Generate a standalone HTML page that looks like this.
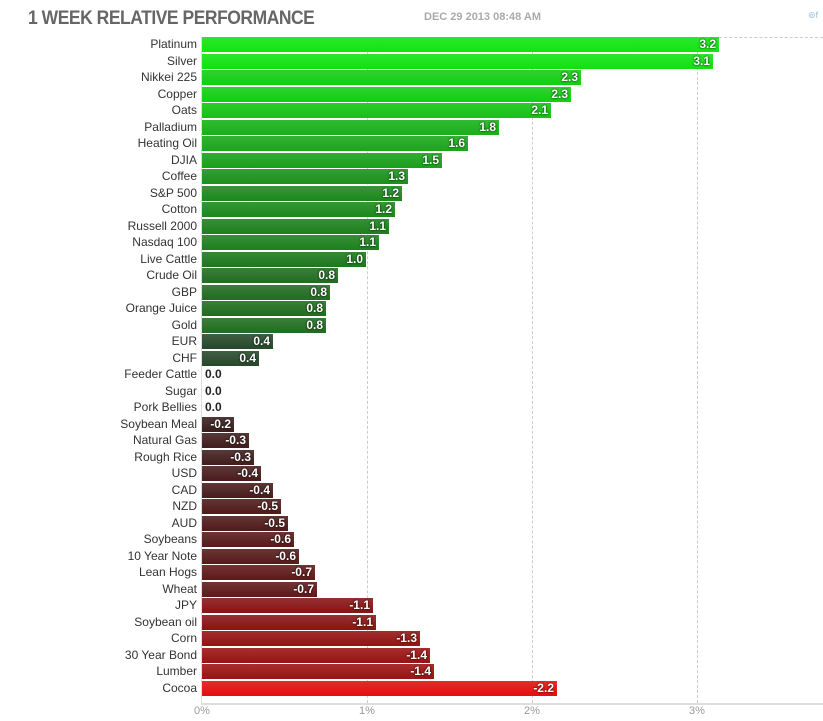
<!DOCTYPE html><html><head><style>
body{margin:0;background:#fff;width:823px;height:721px;position:relative;overflow:hidden;font-family:"Liberation Sans",sans-serif}
.t{position:absolute;left:28px;top:8px;font-size:19px;font-weight:bold;color:#666;letter-spacing:-0.5px;transform:scaleX(0.92);transform-origin:left}
.d{position:absolute;left:424px;top:11px;font-size:11px;font-weight:bold;color:#aaa}
.l{position:absolute;right:626px;font-size:12px;color:#333;height:16px;line-height:16px;white-space:nowrap}
.b{position:absolute;left:202px;height:15px}
.v{position:absolute;font-size:12px;font-weight:bold;color:#fff;line-height:15px;height:15px;text-shadow:0 0 2px #000}
.g{position:absolute;top:37px;height:666px;border-left:1px dashed #ccc}
.x{position:absolute;top:705px;font-size:11px;color:#999}
</style></head><body>
<div class="t">1 WEEK RELATIVE PERFORMANCE</div>
<div class="d">DEC 29 2013 08:48 AM</div>
<div style="position:absolute;left:808px;top:10px;font-size:9px;color:#9bd">⊚f</div>
<div class="g" style="left:367px"></div><div class="g" style="left:532px"></div><div class="g" style="left:697px"></div>
<div style="position:absolute;left:719px;top:37px;width:104px;border-top:1px dashed #ccc"></div>
<div style="position:absolute;left:201px;top:37px;height:666px;border-left:1px solid #ddd"></div>
<div style="position:absolute;left:201px;top:703px;width:622px;border-top:2px solid #ddd"></div>
<div class="x" style="left:194px">0%</div><div class="x" style="left:359px">1%</div><div class="x" style="left:524px">2%</div><div class="x" style="left:689px">3%</div>
<div id="c"></div>
<script>
var D=[["Platinum","3.2",719],["Silver","3.1",713],["Nikkei 225","2.3",581],["Copper","2.3",571],["Oats","2.1",551],["Palladium","1.8",499],["Heating Oil","1.6",468],["DJIA","1.5",442],["Coffee","1.3",408],["S&P 500","1.2",402],["Cotton","1.2",395],["Russell 2000","1.1",389],["Nasdaq 100","1.1",379],["Live Cattle","1.0",366],["Crude Oil","0.8",338],["GBP","0.8",330],["Orange Juice","0.8",326],["Gold","0.8",326],["EUR","0.4",273],["CHF","0.4",259],["Feeder Cattle","0.0",203],["Sugar","0.0",203],["Pork Bellies","0.0",203],["Soybean Meal","-0.2",234],["Natural Gas","-0.3",249],["Rough Rice","-0.3",254],["USD","-0.4",261],["CAD","-0.4",273],["NZD","-0.5",281],["AUD","-0.5",288],["Soybeans","-0.6",294],["10 Year Note","-0.6",299],["Lean Hogs","-0.7",315],["Wheat","-0.7",317],["JPY","-1.1",373],["Soybean oil","-1.1",376],["Corn","-1.3",420],["30 Year Bond","-1.4",430],["Lumber","-1.4",434],["Cocoa","-2.2",557]];
function L(a,b,t){return a.map(function(v,i){return Math.round(v+(b[i]-v)*t)})}
var P=[[0.4,[38,72,42]],[0.8,[32,108,32]],[1.0,[28,120,28]],[1.5,[26,160,26]],[2.3,[18,205,18]],[3.2,[16,228,16]]];
var N=[[0.2,[58,30,30]],[0.7,[95,24,24]],[1.1,[135,20,20]],[1.4,[155,18,18]],[2.2,[228,14,14]]];
function col(v,T){if(v<=T[0][0])return T[0][1];for(var k=1;k<T.length;k++)if(v<=T[k][0])return L(T[k-1][1],T[k][1],(v-T[k-1][0])/(T[k][0]-T[k-1][0]));return T[T.length-1][1];}
var h="";
D.forEach(function(r,i){
 var y=37+i*16.5,v=parseFloat(r[1]),c=null;
 if(v>0)c=col(v,P);else if(v<0)c=col(-v,N);
 h+='<div class="l" style="top:'+(y-1)+'px">'+r[0].replace("&","&amp;")+'</div>';
 var w=r[2]-202;
 if(c){var s='rgb('+c+')',s2='rgb('+L(c,[255,255,255],0.12)+')';
  h+='<div class="b" style="top:'+y+'px;width:'+w+'px;background:linear-gradient('+s2+','+s+')"></div>';
  h+='<div class="v" style="top:'+y+'px;right:'+(823-r[2]+3)+'px">'+r[1]+'</div>';}
 else h+='<div class="v" style="top:'+y+'px;left:205px;color:#222;text-shadow:none">'+r[1]+'</div>';
});
document.getElementById("c").innerHTML=h;
</script>
</body></html>
